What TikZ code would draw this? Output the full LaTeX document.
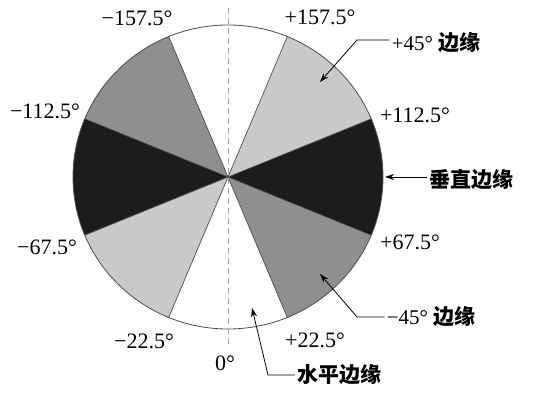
\documentclass[tikz,border=0pt]{standalone}
\usepackage{fontspec}
\setmainfont{Liberation Serif}
\newfontfamily\cjk{Noto Sans CJK SC}
\usetikzlibrary{arrows.meta}
\usetikzlibrary{positioning,calc}
\definecolor{lightsec}{gray}{0.79}
\definecolor{midsec}{gray}{0.56}
\definecolor{darksec}{gray}{0.11}
\definecolor{rimgray}{gray}{0.30}

\begin{document}
\begin{tikzpicture}[x=1pt, y=1pt, thin,
		angle/.style = {font=\fontsize{22}{24}\selectfont, inner sep=1pt},
		edgelabel/.style = {font=\fontsize{21}{24}\selectfont, inner sep=2pt},
		pointer/.style = {draw=black, line width=0.8pt, -{Stealth[length=9pt, width=6pt]}},
		sector/.style = {draw=rimgray, line width=0.7pt}]
		\useasboundingbox (0,0) rectangle (551,403);
		\coordinate (c) at (228,226);
		% sectors, angles counted from the downward vertical
		\foreach \a/\col in {-22.5/white, 22.5/midsec, 67.5/darksec, 112.5/lightsec,
			157.5/white, 202.5/midsec, 247.5/darksec, 292.5/lightsec}
		{
			\fill[\col] (c) -- ++(270+\a:155 and 152) arc[start angle=270+\a, end angle=315+\a, x radius=155, y radius=152] -- cycle;
		}
		\foreach \a in {22.5, 67.5, 112.5, 157.5}
		{
			\draw[sector] ($(c)+(270+\a:155 and 152)$) -- ($(c)+(90+\a:155 and 152)$);
		}
		\draw[rimgray, line width=0.8pt] (c) ellipse[x radius=155, y radius=152];
		\draw[gray!70, dashed, dash pattern=on 6pt off 4pt, line width=0.7pt] (228,395) -- (228,56);
		% boundary angles
		\node[angle] (m1575) at (137,385) {−157.5°};
		\node[angle] (p1575) at (320,386) {+157.5°};
		\node[angle] (m1125) at (45,292) {−112.5°};
		\node[angle] (p1125) at (415,288) {+112.5°};
		\node[angle] (m675) at (47,156) {−67.5°};
		\node[angle] (p675) at (410,161) {+67.5°};
		\node[angle] (m225) at (144,62) {−22.5°};
		\node[angle] (p225) at (315,63) {+22.5°};
		\node[angle] (zero) at (225,40) {0°};
		% edge classes
		\node[edgelabel] (p45) at (436,360) {+45° {\cjk\bfseries 边缘}};
		\node[edgelabel] (vert) at (471,223) {\cjk\bfseries 垂直边缘};
		\node[edgelabel] (m45) at (431,86) {−45° {\cjk\bfseries 边缘}};
		\node[edgelabel] (horiz) at (339,28) {\cjk\bfseries 水平边缘};
		\coordinate (p45bend) at (357,363);
		\coordinate (p45tip) at (320,321);
		\coordinate (verttip) at (385,226);
		\coordinate (m45bend) at (357,86);
		\coordinate (m45tip) at (320,129);
		\coordinate (horizbend) at (268,28);
		\coordinate (horiztip) at (252,95);
		\draw[pointer] (p45.west |- p45bend) -- (p45bend) -- (p45tip);
		\draw[pointer] (vert.west |- verttip) -- (verttip);
		\draw[pointer] (m45.west) -- (m45bend) -- (m45tip);
		\draw[pointer] (horiz.west) -- (horizbend) -- (horiztip);
	\end{tikzpicture}
\end{document}
